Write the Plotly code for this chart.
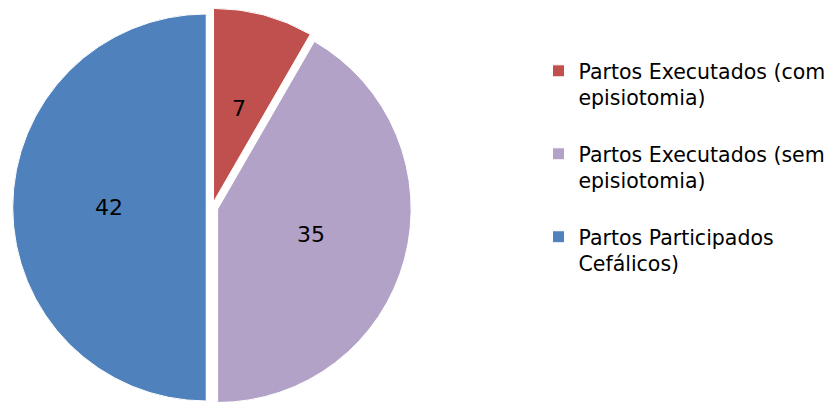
import numpy as np
import plotly.graph_objects as go

labels = ["Partos Executados (com<br>episiotomia)<br> ",
          "Partos Executados (sem<br>episiotomia)<br> ",
          "Partos Participados<br>Cefálicos)<br> "]
values = [7, 35, 42]
colors = ["#C0504D", "#B3A2C7", "#4F81BD"]

W, H = 837, 402
PULL = 0.03
dom_x = [0.0056, 0.4819]
dom_y = [0.008, 0.9995]

fig = go.Figure(go.Pie(
    labels=labels,
    values=values,
    sort=False,
    direction="clockwise",
    rotation=0,
    pull=[PULL] * len(values),
    marker=dict(colors=colors, line=dict(color="white", width=1)),
    textinfo="none",
    domain=dict(x=dom_x, y=dom_y),
    hoverinfo="label+value",
))

# value labels placed at mid-radius along each slice's bisector (Excel style)
r = min((dom_x[1] - dom_x[0]) * W, (dom_y[1] - dom_y[0]) * H) / 2 / (1 + PULL)
cx = (dom_x[0] + dom_x[1]) / 2 * W
cy = (dom_y[0] + dom_y[1]) / 2 * H
vals = np.array(values, dtype=float)
ends = np.cumsum(vals) / vals.sum() * 2 * np.pi
starts = ends - vals / vals.sum() * 2 * np.pi
mids = (starts + ends) / 2
dist = 0.5 * r + PULL * r
for v, a in zip(values, mids):
    px = cx + dist * np.sin(a)
    py = cy + dist * np.cos(a)
    fig.add_annotation(x=px / W, y=py / H, xref="paper", yref="paper",
                       xanchor="center", yanchor="middle",
                       text=str(v), showarrow=False,
                       font=dict(family="DejaVu Sans", size=22, color="#000000"))

fig.update_layout(
    width=W, height=H,
    margin=dict(l=0, r=0, t=0, b=0),
    paper_bgcolor="white",
    plot_bgcolor="white",
    font=dict(family="DejaVu Sans", size=20.5, color="#000000"),
    legend=dict(
        x=0.6338, y=0.893, xanchor="left", yanchor="top",
        valign="top",
        itemwidth=30,
        font=dict(family="DejaVu Sans", size=20.5, color="#000000"),
        bgcolor="rgba(0,0,0,0)",
    ),
    showlegend=True,
)

fig.write_html("out.html")
